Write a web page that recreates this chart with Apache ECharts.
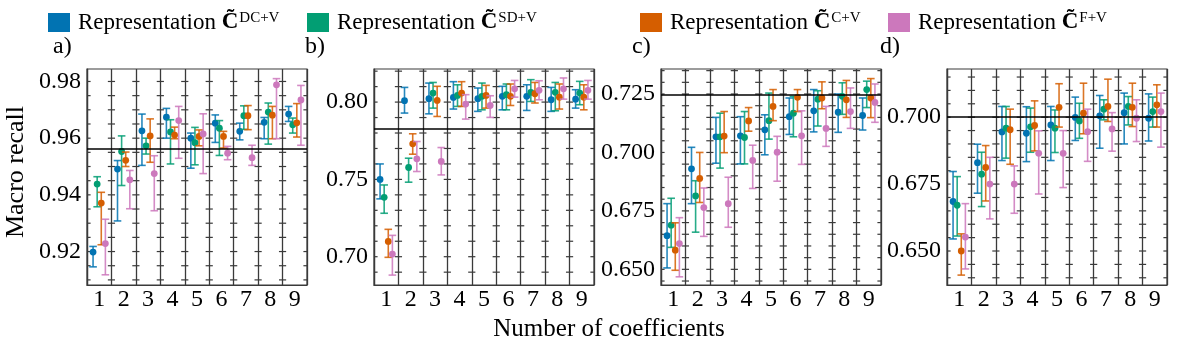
<!DOCTYPE html>
<html><head><meta charset="utf-8">
<script src="https://cdn.jsdelivr.net/npm/echarts@6/dist/echarts.min.js"></script>
<style>html,body{margin:0;padding:0;background:#fff}#c{width:1200px;height:349px}</style>
</head><body><div id="c"></div>
<script>
const categories = ['1','2','3','4','5','6','7','8','9'];
const seriesNames = ['DC+V','SD+V','C+V','F+V'];
const colors = ['#0173B2','#029E73','#D55E00','#CC78BC'];
const panelLabels = ['a)','b)','c)','d)'];

// each entry: [mean, low, high]
const a_DC = [[0.9198,0.9146,0.9218],[0.9491,0.9308,0.9521],[0.9626,0.9504,0.9685],[0.9674,0.9600,0.9705],[0.9600,0.9494,0.9618],[0.9653,0.9585,0.9682],[0.9624,0.9594,0.9653],[0.9656,0.9598,0.9673],[0.9685,0.9659,0.9712]];
const a_SD = [[0.9438,0.9358,0.9464],[0.9553,0.9433,0.9608],[0.9573,0.9544,0.9600],[0.9622,0.9509,0.9665],[0.9584,0.9506,0.9638],[0.9635,0.9539,0.9662],[0.9679,0.9631,0.9714],[0.9692,0.9579,0.9724],[0.9647,0.9618,0.9671]];
const a_C  = [[0.9371,0.9224,0.9409],[0.9522,0.9500,0.9551],[0.9608,0.9515,0.9668],[0.9611,0.9598,0.9639],[0.9606,0.9573,0.9629],[0.9606,0.9565,0.9624],[0.9679,0.9630,0.9715],[0.9681,0.9598,0.9712],[0.9654,0.9604,0.9722]];
const a_F  = [[0.9228,0.9118,0.9314],[0.9453,0.9351,0.9486],[0.9475,0.9344,0.9538],[0.9662,0.9529,0.9712],[0.9615,0.9475,0.9686],[0.9547,0.9524,0.9571],[0.9531,0.9504,0.9575],[0.9788,0.9598,0.9810],[0.9735,0.9575,0.9786]];

const b_DC = [[0.7500,0.7374,0.7600],[0.8009,0.7929,0.8095],[0.8022,0.7924,0.8123],[0.8030,0.7955,0.8132],[0.8022,0.7940,0.8091],[0.8037,0.7950,0.8102],[0.8037,0.7946,0.8112],[0.8015,0.7940,0.8095],[0.8019,0.7961,0.8080]];
const b_SD = [[0.7384,0.7281,0.7464],[0.7577,0.7482,0.7637],[0.8058,0.7961,0.8127],[0.8043,0.7972,0.8112],[0.8037,0.7950,0.8123],[0.8048,0.7950,0.8117],[0.8063,0.8004,0.8145],[0.8063,0.7944,0.8127],[0.8058,0.7983,0.8134]];
const b_C  = [[0.7099,0.6996,0.7177],[0.7730,0.7663,0.7795],[0.8011,0.7907,0.8102],[0.8058,0.7972,0.8132],[0.8043,0.7961,0.8108],[0.8037,0.7978,0.8117],[0.8054,0.7994,0.8127],[0.8032,0.7955,0.8117],[0.8032,0.7950,0.8112]];
const b_F  = [[0.7017,0.6881,0.7138],[0.7633,0.7551,0.7745],[0.7616,0.7529,0.7706],[0.7987,0.7890,0.8048],[0.7978,0.7901,0.8041],[0.8086,0.8032,0.8140],[0.8076,0.8015,0.8138],[0.8086,0.8019,0.8156],[0.8076,0.8019,0.8140]];

const c_DC = [[0.6644,0.6506,0.6781],[0.6930,0.6781,0.7022],[0.7067,0.6954,0.7150],[0.7071,0.6951,0.7153],[0.7097,0.6990,0.7161],[0.7153,0.7077,0.7233],[0.7178,0.7088,0.7269],[0.7172,0.7086,0.7250],[0.7158,0.7096,0.7233]];
const c_SD = [[0.6689,0.6594,0.6804],[0.6814,0.6659,0.6879],[0.7067,0.6933,0.7168],[0.7064,0.6951,0.7175],[0.7136,0.7057,0.7254],[0.7168,0.7067,0.7240],[0.7228,0.7113,0.7264],[0.7240,0.7163,0.7298],[0.7269,0.7192,0.7305]];
const c_C  = [[0.6582,0.6496,0.6699],[0.6889,0.6786,0.7000],[0.7070,0.6999,0.7175],[0.7135,0.7091,0.7192],[0.7197,0.7136,0.7269],[0.7236,0.7175,0.7269],[0.7233,0.7187,0.7302],[0.7225,0.7150,0.7308],[0.7233,0.7149,0.7316]];
const c_F  = [[0.6610,0.6468,0.6721],[0.6764,0.6641,0.6848],[0.6781,0.6680,0.6894],[0.6966,0.6846,0.7031],[0.7001,0.6877,0.7069],[0.7071,0.6949,0.7178],[0.7103,0.7026,0.7197],[0.7175,0.7103,0.7276],[0.7214,0.7129,0.7293]];

const d_DC = [[0.6685,0.6545,0.6797],[0.6830,0.6716,0.6899],[0.6945,0.6838,0.7040],[0.6940,0.6834,0.7039],[0.6971,0.6838,0.7040],[0.6999,0.6913,0.7075],[0.7005,0.6884,0.7081],[0.7017,0.6900,0.7090],[0.6996,0.6911,0.7087]];
const d_SD = [[0.6671,0.6556,0.6778],[0.6787,0.6666,0.6869],[0.6959,0.6847,0.7040],[0.6964,0.6869,0.7034],[0.6959,0.6868,0.7027],[0.6986,0.6921,0.7052],[0.7030,0.6990,0.7065],[0.7040,0.6971,0.7077],[0.7021,0.6963,0.7075]];
const d_C  = [[0.6500,0.6410,0.6564],[0.6812,0.6687,0.6894],[0.6953,0.6824,0.7030],[0.6969,0.6874,0.7061],[0.7037,0.6963,0.7125],[0.7015,0.6938,0.7127],[0.7040,0.6984,0.7142],[0.7037,0.6965,0.7127],[0.7046,0.6963,0.7121]];
const d_F  = [[0.6552,0.6433,0.6677],[0.6750,0.6620,0.6850],[0.6750,0.6641,0.6818],[0.6865,0.6713,0.6949],[0.6865,0.6737,0.6950],[0.6946,0.6835,0.7030],[0.6956,0.6873,0.7017],[0.6996,0.6909,0.7065],[0.7021,0.6888,0.7090]];

const refLines = [0.9561, 0.7827, 0.7247, 0.7003];
const yMin = [0.9082, 0.6817, 0.6433, 0.6373];
const yMax = [0.9844, 0.8214, 0.7357, 0.7180];
const yTicksA = [0.92, 0.94, 0.96, 0.98];
const yTicksB = [0.70, 0.75, 0.80];
const yTicksC = [0.650, 0.675, 0.700, 0.725];
const yTicksD = [0.650, 0.675, 0.700];
const minorStep = [0.005, 0.01, 0.005, 0.005];

const panels = [[a_DC,a_SD,a_C,a_F],[b_DC,b_SD,b_C,b_F],[c_DC,c_SD,c_C,c_F],[d_DC,d_SD,d_C,d_F]];
const yTicks = [yTicksA, yTicksB, yTicksC, yTicksD];
const decimals = [2, 2, 3, 3];

const FONT = 'Liberation Serif';
const gridLefts = [87, 374, 661, 947];
const GRID_W = 220, GRID_TOP = 69, GRID_H = 216;
const AXC = '#3a3a3a';

const grids = [], xAxes = [], yAxes = [], series = [];
for (let p = 0; p < 4; p++) {
  grids.push({left: gridLefts[p], top: GRID_TOP, width: GRID_W, height: GRID_H, show: true, borderColor: AXC, borderWidth: 1.2, containLabel: false});
  xAxes.push({type: 'category', gridIndex: p, data: categories, boundaryGap: true,
    axisLine: {show: true, lineStyle: {color: AXC, width: 1.2}}, axisTick: {show: false},
    axisLabel: {fontFamily: FONT, fontSize: 24, color: '#000', margin: 3, interval: 0},
    splitLine: {show: true, interval: 0, lineStyle: {color: AXC, width: 1.3}}});
  yAxes.push({type: 'value', gridIndex: p, min: yMin[p], max: yMax[p],
    axisLine: {show: true, lineStyle: {color: AXC, width: 1.2}}, axisTick: {show: false},
    splitLine: {show: false},
    axisLabel: {customValues: yTicks[p], formatter: (v) => Number(v).toFixed(decimals[p]), fontFamily: FONT, fontSize: 24, color: '#000', margin: 6}});
  // tick marks along every category boundary
  const tv = [];
  const st = minorStep[p];
  for (let k = Math.ceil(yMin[p] / st - 1e-9); k * st <= yMax[p] + 1e-9; k++) tv.push([0, +(k * st).toFixed(5)]);
  series.push({type: 'custom', xAxisIndex: p, yAxisIndex: p, clip: true, silent: true, z: 1,
    data: tv, encode: {x: 0, y: 1},
    renderItem: function (params, api) {
      const v = api.value(1);
      const pt = api.coord([0, v]);
      const bw = api.size([1, 0])[0];
      const x0 = pt[0] - bw / 2;
      const ch = [];
      for (let k = 0; k <= 9; k++) {
        const x = x0 + k * bw;
        ch.push({type: 'line', shape: {x1: x - 3.6, y1: pt[1], x2: x + 3.6, y2: pt[1]}, style: {stroke: AXC, lineWidth: 1.2}});
      }
      return {type: 'group', children: ch};
    },
    markLine: {silent: true, symbol: ['none', 'none'], label: {show: false}, animation: false, precision: 5,
      lineStyle: {color: '#000', width: 1.6, type: 'solid'}, data: [{yAxis: refLines[p]}]}
  });
  for (let s = 0; s < 4; s++) {
    const arr = panels[p][s];
    const col = colors[s];
    series.push({type: 'custom', name: seriesNames[s], xAxisIndex: p, yAxisIndex: p, z: 3,
      itemStyle: {color: col},
      data: arr.map((d, i) => [i, d[1], d[2], d[0]]), encode: {x: 0, y: [1, 2, 3]},
      renderItem: function (params, api) {
        const i = api.value(0);
        const lo = api.coord([i, api.value(1)]);
        const hi = api.coord([i, api.value(2)]);
        const m = api.coord([i, api.value(3)]);
        const bw = api.size([1, 0])[0];
        const x = m[0] + (s - 1.5) * 0.168 * bw;
        const cw = 3.8;
        const ls = {stroke: col, lineWidth: 1.6, opacity: 0.85};
        return {type: 'group', children: [
          {type: 'line', shape: {x1: x, y1: lo[1], x2: x, y2: hi[1]}, style: ls},
          {type: 'line', shape: {x1: x - cw, y1: lo[1], x2: x + cw, y2: lo[1]}, style: ls},
          {type: 'line', shape: {x1: x - cw, y1: hi[1], x2: x + cw, y2: hi[1]}, style: ls},
          {type: 'circle', shape: {cx: x, cy: m[1], r: 3.4}, style: {fill: col}}
        ]};
      }
    });
  }
}

const legendLefts = [43, 302, 635, 883];
const legends = seriesNames.map((n, i) => ({
  data: [n], left: legendLefts[i], top: 6, icon: 'rect', itemWidth: 22, itemHeight: 19,
  selectedMode: false,
  formatter: (name) => '{a|Representation }{b|C\u0303}{s|' + name + '}',
  textStyle: {color: '#000', fontFamily: FONT, fontSize: 23,
    rich: {
      a: {fontFamily: FONT, fontSize: 23, color: '#000', padding: [0, 0, 0, 3]},
      b: {fontFamily: FONT, fontSize: 23, fontWeight: 'bold', color: '#000'},
      s: {fontFamily: FONT, fontSize: 15, color: '#000', verticalAlign: 'top', padding: [0, 0, 8, 1]}
    }}
}));

const graphics = [];
const labelX = [53, 305, 632, 880];
for (let p = 0; p < 4; p++) {
  graphics.push({type: 'text', x: labelX[p], y: 47, style: {text: panelLabels[p], font: '24px "Liberation Serif"', fill: '#000', align: 'left', verticalAlign: 'middle'}});
}
graphics.push({type: 'text', x: 609, y: 329, style: {text: 'Number of coefficients', font: '25px "Liberation Serif"', fill: '#000', align: 'center', verticalAlign: 'middle'}});
graphics.push({type: 'text', x: 16, y: 172, rotation: Math.PI / 2, style: {text: 'Macro recall', font: '26px "Liberation Serif"', fill: '#000', align: 'center', verticalAlign: 'middle'}});

const chart = echarts.init(document.getElementById('c'), null, {renderer: 'canvas'});
chart.setOption({
  backgroundColor: '#fff', animation: false,
  grid: grids, xAxis: xAxes, yAxis: yAxes, series: series, legend: legends, graphic: graphics
});
</script></body></html>
